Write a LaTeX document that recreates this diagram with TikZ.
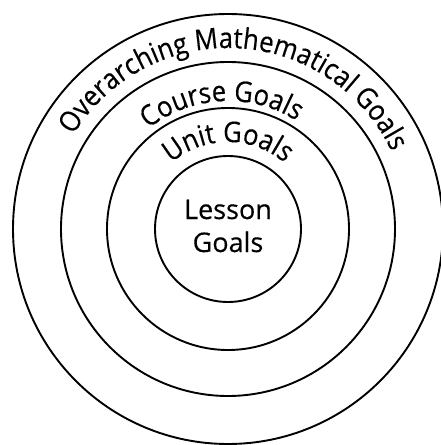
\documentclass[tikz,border=0pt]{standalone}
\usepackage{fontspec}
\setsansfont{Open Sans}[FakeBold=0.4]
\newfontfamily\arcfamily{Open Sans}[FakeStretch=0.9, FakeBold=0.4]
\usetikzlibrary{decorations.text}
\newcommand\ringfont{\sffamily\fontsize{27}{33}\selectfont}
\newcommand\arcfont{\arcfamily\fontsize{28.5}{33}\selectfont}

\begin{document}
\begin{tikzpicture}[
    x=1pt, y=1pt,
    every node/.style={font=\ringfont},
    ring/.style={circle, draw=black, line width=1.9pt, inner sep=0pt},
    arclabel/.style={
      decorate,
      decoration={text along path, text align=center,
        text format delimiters={|}{|}, text={|\arcfont|#1}}
    },
  ]
  \useasboundingbox (0,0) rectangle (441,445);
  \coordinate (c) at (228,216);

  % ============ Rings ============
  \node[ring, minimum size=430pt] (overarching) at (c) {};
  \node[ring, minimum size=334pt] (course) at (c) {};
  \node[ring, minimum size=242pt] (unit) at (c) {};
  \node[ring, minimum size=146pt, align=center] (lesson) at (c) {};
  \node[align=center, yshift=3pt] (lessontext) at (lesson) {Lesson\\Goals};

  % ============ Curved labels ============
  \path[arclabel=Overarching Mathematical Goals]
    ([shift={(177:181)}]c) arc[start angle=177, end angle=-3, radius=181];
  \path[arclabel=Course Goals]
    ([shift={(183:128)}]c) arc[start angle=183, end angle=3, radius=128];
  \path[arclabel=Unit Goals]
    ([shift={(180:87)}]c) arc[start angle=180, end angle=0, radius=87];

\end{tikzpicture}
\end{document}
